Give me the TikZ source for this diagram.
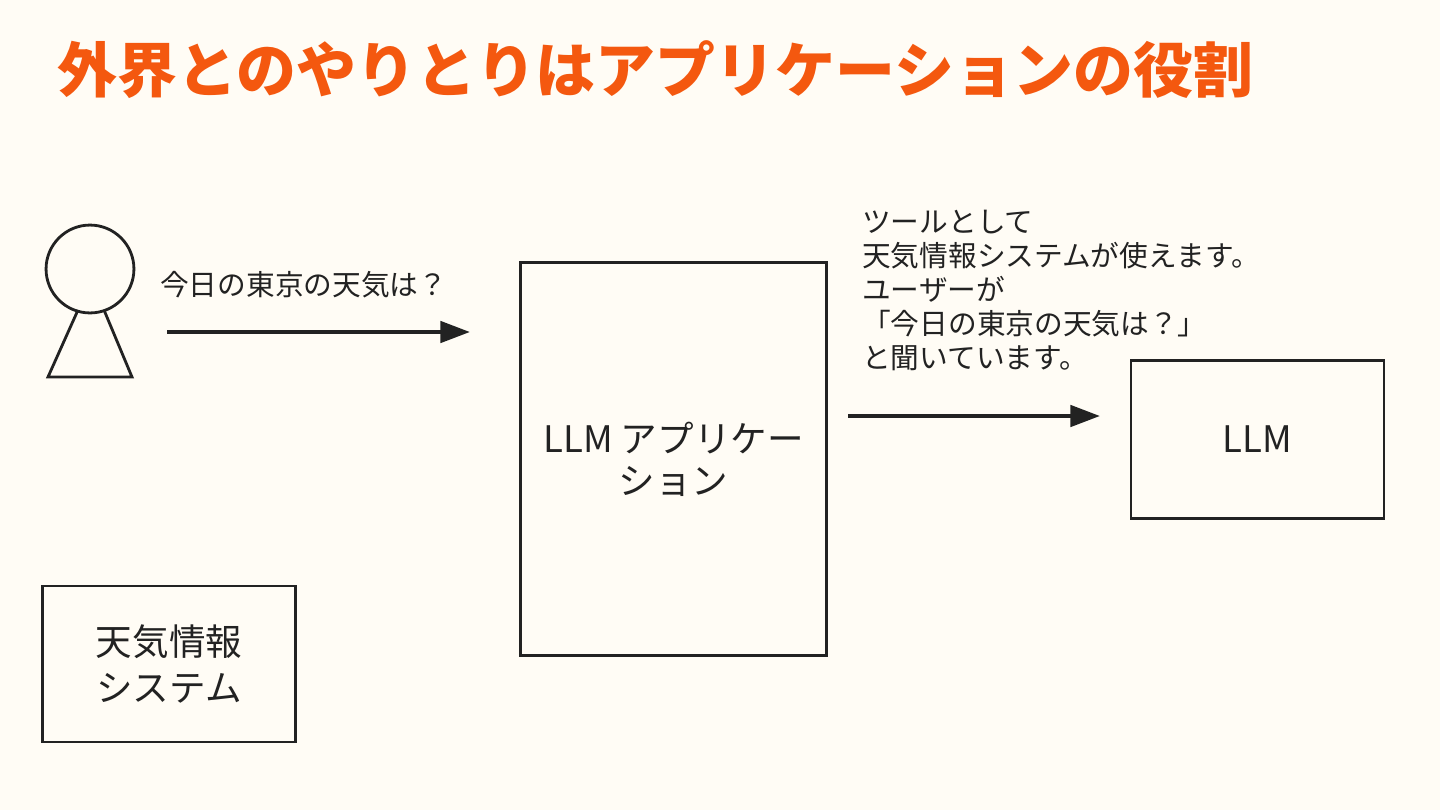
\documentclass[tikz,border=0pt]{standalone}
\usepackage{fontspec}
\usetikzlibrary{arrows.meta}
\setmainfont{Noto Sans CJK JP}
\definecolor{paper}{HTML}{FFFCF5}
\definecolor{ink}{HTML}{222222}
\definecolor{titleorange}{HTML}{F4580F}
\begin{document}
\begin{tikzpicture}[x=0.025cm,y=-0.025cm,
	box/.style={draw=ink,line width=2pt,inner sep=0pt},
	label/.style={font=\fontsize{26}{30}\selectfont,text=ink,align=center},
	flow/.style={-{Triangle[length=21pt,width=15pt]},draw=ink,line width=3pt},
	note/.style={font=\fontsize{20.4}{24.2}\selectfont,text=ink,inner sep=0pt}]
	\fill[paper] (0,0) rectangle (1440,810);
	\useasboundingbox (0,0) rectangle (1440,810);
	\node[anchor=west,text=titleorange,font=\fontsize{42.6}{50}\selectfont\bfseries,inner sep=0pt] (title) at (57,70) {外界とのやりとりはアプリケーションの役割};
	% person
	\node[draw=ink,line width=2pt,circle,inner sep=0pt,minimum size=62.5pt] (head) at (90,269) {};
	\draw[ink,line width=2pt] (78,310)--(48,377)--(132,377)--(104,310);
	% boxes
	\node[box,minimum width=218pt,minimum height=280pt] (app) at (673.5,459) {};
	\node[label] (applabel) at (673.5,459) {LLM アプリケー\\ション};
	\node[box,minimum width=180pt,minimum height=112pt] (llm) at (1257.5,439.5) {};
	\node[label] (llmlabel) at (llm) {LLM};
	\node[box,minimum width=180pt,minimum height=111pt] (weather) at (169,664) {};
	\node[label,font=\fontsize{26}{33}\selectfont] (weatherlabel) at (weather) {天気情報\\システム};
	% arrows
	\coordinate (askstart) at (167,332);
	\coordinate (askend) at (470,332);
	\coordinate (toolstart) at (848,416);
	\coordinate (toolend) at (1100,416);
	\draw[flow] (askstart)--(askend);
	\draw[flow] (toolstart)--(toolend);
	\node[note,anchor=west] (ask) at (160,285) {今日の東京の天気は？};
	\node[note,anchor=north west,align=left] (prompt) at (862,210) {ツールとして\\天気情報システムが使えます。\\ユーザーが\\「今日の東京の天気は？」\\と聞いています。};
\end{tikzpicture}
\end{document}
